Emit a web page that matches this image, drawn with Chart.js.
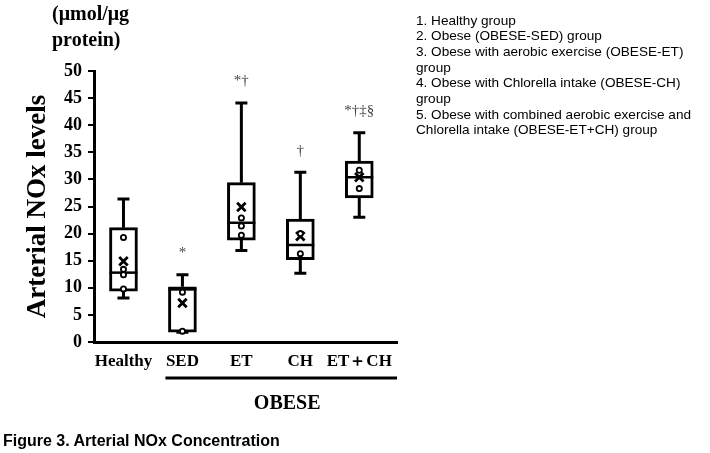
<!DOCTYPE html>
<html>
<head>
<meta charset="utf-8">
<script src="https://cdn.jsdelivr.net/npm/chart.js@4.4.1/dist/chart.umd.min.js"></script>
<style>
  html, body { margin: 0; padding: 0; background: #fff; }
  #wrap { position: relative; width: 710px; height: 453px; overflow: hidden; }
  #wrap canvas { position: absolute; left: 0; top: 0; }
  .notes { position: absolute; left: 416px; top: 12.5px; font: 13.6px/15.7px "Liberation Sans", Arial, sans-serif; color: #000; white-space: nowrap; }
  .caption { position: absolute; left: 3px; top: 432px; font: bold 16px/18px "Liberation Sans", Arial, sans-serif; color: #000; white-space: nowrap; }
</style>
</head>
<body>
<div id="wrap">
  <canvas id="chartNox" width="710" height="453"></canvas>
  <div class="notes">
    1. Healthy group<br>
    2. Obese (OBESE-SED) group<br>
    3. Obese with aerobic exercise (OBESE-ET)<br>
    group<br>
    4. Obese with Chlorella intake (OBESE-CH)<br>
    group<br>
    5. Obese with combined aerobic exercise and<br>
    Chlorella intake (OBESE-ET+CH) group
  </div>
  <div class="caption">Figure 3. Arterial NOx Concentration</div>
</div>
<script>
/* ---- data (µmol/µg protein) ---- */
const GROUPS   = ['Healthy', 'SED', 'ET', 'CH', 'ET\uFF0BCH'];
const W_MIN    = [8.1, 1.8, 16.9, 12.7, 23.0];
const Q1       = [9.4, 1.8, 18.8, 15.2, 26.6];
const MEDIAN   = [12.8, 9.7, 22.0, 17.9, 30.4];
const Q3       = [21.1, 10.2, 29.4, 22.7, 33.4];
const W_MAX    = [26.4, 12.4, 44.1, 31.3, 38.6];
const MEANS    = [14.9, 7.2, 24.9, 19.5, 30.4];
const POINTS   = [[19.3, 13.4, 12.4, 9.8], [9.2, 2.0], [22.9, 21.4, 19.7], [20.0, 16.3], [31.7, 28.3]];
const SIG      = ['', '*', '*\u2020', '\u2020', '*\u2020\u2021\u00A7'];
const Y_TICKS  = [0, 5, 10, 15, 20, 25, 30, 35, 40, 45, 50];
const UNIT     = ['(\u03BCmol/\u03BCg', 'protein)'];
const Y_TITLE  = 'Arterial NOx levels';
const BRACKET  = 'OBESE';

const SERIF = '"Liberation Serif", "Times New Roman", serif';

/* whiskers + caps, medians, significance marks, unit label, OBESE bracket */
const boxExtras = {
  id: 'boxExtras',
  beforeDatasetsDraw(chart) {
    const { ctx, scales: { x, y } } = chart;
    ctx.save();
    ctx.strokeStyle = '#000'; ctx.lineWidth = 3; ctx.lineCap = 'butt';
    GROUPS.forEach((g, i) => {
      const cx = x.getPixelForValue(i + 1);
      ctx.beginPath();
      ctx.moveTo(cx, y.getPixelForValue(W_MAX[i])); ctx.lineTo(cx, y.getPixelForValue(Q3[i]));
      ctx.moveTo(cx, y.getPixelForValue(Q1[i]));    ctx.lineTo(cx, y.getPixelForValue(W_MIN[i]));
      ctx.moveTo(cx - 6, y.getPixelForValue(W_MAX[i])); ctx.lineTo(cx + 6, y.getPixelForValue(W_MAX[i]));
      ctx.moveTo(cx - 6, y.getPixelForValue(W_MIN[i])); ctx.lineTo(cx + 6, y.getPixelForValue(W_MIN[i]));
      ctx.stroke();
    });
    ctx.restore();
  },
  afterDatasetDraw(chart, args) {
    if (args.index !== 0) return;
    const { ctx, scales: { x, y } } = chart;
    ctx.save();
    ctx.strokeStyle = '#000'; ctx.lineWidth = 2.5;
    MEDIAN.forEach((m, i) => {
      const cx = x.getPixelForValue(i + 1), py = y.getPixelForValue(m);
      ctx.beginPath(); ctx.moveTo(cx - 14, py); ctx.lineTo(cx + 14, py); ctx.stroke();
    });
    ctx.restore();
  },
  afterDraw(chart) {
    const { ctx, chartArea: a, scales: { x, y } } = chart;
    ctx.save();
    // significance marks, a little above each upper whisker
    ctx.fillStyle = '#444'; ctx.font = `15px ${SERIF}`; ctx.textAlign = 'center'; ctx.textBaseline = 'middle';
    SIG.forEach((s, i) => { if (s) ctx.fillText(s, x.getPixelForValue(i + 1), y.getPixelForValue(W_MAX[i] + 4)); });
    // unit label above the y axis
    ctx.fillStyle = '#000'; ctx.font = `bold 20px ${SERIF}`; ctx.textAlign = 'left'; ctx.textBaseline = 'alphabetic';
    ctx.fillText(UNIT[0], a.left - 42, a.top - 51.5);
    ctx.fillText(UNIT[1], a.left - 42, a.top - 25.5);
    // OBESE bracket under groups 2..5
    const x0 = x.getPixelForValue(2) - 17, x1 = a.right, by = a.bottom + 36;
    ctx.strokeStyle = '#000'; ctx.lineWidth = 3;
    ctx.beginPath(); ctx.moveTo(x0, by); ctx.lineTo(x1, by); ctx.stroke();
    ctx.font = `bold 20px ${SERIF}`; ctx.textAlign = 'center';
    ctx.fillText(BRACKET, (x0 + x1) / 2 + 6, a.bottom + 67);
    ctx.restore();
  }
};

new Chart(document.getElementById('chartNox'), {
  data: {
    datasets: [
      { type: 'bar', order: 3, data: Q1.map((q, i) => ({ x: i + 1, y: [q, Q3[i]] })),
        backgroundColor: '#fff', borderColor: '#000', borderWidth: 3, borderSkipped: false, barThickness: 28 },
      { type: 'scatter', order: 2, data: MEANS.map((m, i) => ({ x: i + 1, y: m })),
        pointStyle: 'crossRot', pointRadius: 6, borderColor: '#000', borderWidth: 2.8 },
      { type: 'scatter', order: 1, data: POINTS.flatMap((p, i) => p.map((v) => ({ x: i + 1, y: v }))),
        pointStyle: 'circle', pointRadius: 2.6, backgroundColor: '#fff', borderColor: '#000', borderWidth: 1.8 }
    ]
  },
  options: {
    responsive: false, animation: false, events: [],
    layout: { padding: { left: 0, top: 71, right: 313, bottom: 0 } },
    plugins: { legend: { display: false }, tooltip: { enabled: false } },
    scales: {
      x: {
        type: 'linear', min: 0.5, max: 5.64, offset: false,
        afterFit: (s) => { s.height = 111; },
        grid: { display: false },
        border: { display: true, color: '#000', width: 3 },
        ticks: { stepSize: 1, includeBounds: false, autoSkip: false, maxRotation: 0, padding: 1, color: '#000',
          font: { family: SERIF, size: 17, weight: 'bold' },
          callback: (v) => (Number.isInteger(v) && GROUPS[v - 1]) || '' }
      },
      y: {
        min: 0, max: 50,
        afterFit: (s) => { s.width = 94; },
        afterBuildTicks: (s) => { s.ticks = Y_TICKS.map((v) => ({ value: v })); },
        grid: { drawOnChartArea: false, drawTicks: true, tickLength: 6, color: '#000', lineWidth: 2 },
        border: { display: true, color: '#000', width: 3 },
        ticks: { padding: 6, color: '#000', font: { family: SERIF, size: 18, weight: 'bold' } },
        title: { display: true, text: Y_TITLE, color: '#000', padding: { top: 22, bottom: 0 },
          font: { family: SERIF, size: 27, weight: 'bold' } }
      }
    }
  },
  plugins: [boxExtras]
});
</script>
</body>
</html>
